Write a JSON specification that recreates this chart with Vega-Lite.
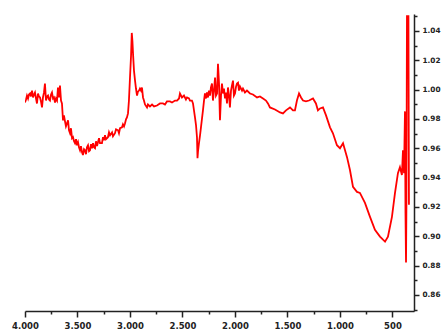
{
  "$schema": "https://vega.github.io/schema/vega-lite/v6.json",
  "width": 389,
  "height": 297,
  "autosize": {"type": "none"},
  "padding": {"left": 25, "top": 14, "right": 34, "bottom": 21},
  "background": "white",
  "config": {"view": {"stroke": null}},
  "data": {"values": [
    {"wn": 4000, "t": 0.9912}, {"wn": 3990, "t": 0.9932}, {"wn": 3981, "t": 0.9959}, {"wn": 3971, "t": 0.9939},
    {"wn": 3962, "t": 0.9966}, {"wn": 3952, "t": 0.9973}, {"wn": 3943, "t": 0.9953}, {"wn": 3933, "t": 0.9993},
    {"wn": 3924, "t": 0.9946}, {"wn": 3914, "t": 0.9966}, {"wn": 3905, "t": 0.9980}, {"wn": 3895, "t": 0.9939},
    {"wn": 3886, "t": 0.9905}, {"wn": 3876, "t": 0.9973}, {"wn": 3867, "t": 0.9953}, {"wn": 3857, "t": 0.9946},
    {"wn": 3848, "t": 0.9919}, {"wn": 3838, "t": 0.9878}, {"wn": 3829, "t": 0.9946}, {"wn": 3819, "t": 0.9980},
    {"wn": 3810, "t": 1.0041}, {"wn": 3800, "t": 0.9925}, {"wn": 3790, "t": 0.9953}, {"wn": 3781, "t": 0.9959},
    {"wn": 3771, "t": 0.9932}, {"wn": 3762, "t": 0.9925}, {"wn": 3752, "t": 0.9966}, {"wn": 3743, "t": 0.9980},
    {"wn": 3733, "t": 0.9939}, {"wn": 3724, "t": 0.9946}, {"wn": 3714, "t": 0.9912}, {"wn": 3705, "t": 0.9939},
    {"wn": 3695, "t": 0.9925}, {"wn": 3686, "t": 1.0014}, {"wn": 3676, "t": 0.9946}, {"wn": 3667, "t": 1.0027},
    {"wn": 3657, "t": 0.9925}, {"wn": 3648, "t": 0.9905}, {"wn": 3638, "t": 0.9790}, {"wn": 3629, "t": 0.9824},
    {"wn": 3619, "t": 0.9783}, {"wn": 3610, "t": 0.9749}, {"wn": 3600, "t": 0.9769}, {"wn": 3590, "t": 0.9790},
    {"wn": 3581, "t": 0.9722}, {"wn": 3571, "t": 0.9702}, {"wn": 3562, "t": 0.9736}, {"wn": 3552, "t": 0.9668},
    {"wn": 3543, "t": 0.9675}, {"wn": 3533, "t": 0.9647}, {"wn": 3524, "t": 0.9634}, {"wn": 3514, "t": 0.9661},
    {"wn": 3505, "t": 0.9620}, {"wn": 3495, "t": 0.9641}, {"wn": 3486, "t": 0.9607}, {"wn": 3476, "t": 0.9586},
    {"wn": 3467, "t": 0.9614}, {"wn": 3457, "t": 0.9573}, {"wn": 3448, "t": 0.9553}, {"wn": 3438, "t": 0.9593},
    {"wn": 3429, "t": 0.9586}, {"wn": 3419, "t": 0.9559}, {"wn": 3410, "t": 0.9607}, {"wn": 3400, "t": 0.9620},
    {"wn": 3390, "t": 0.9580}, {"wn": 3381, "t": 0.9586}, {"wn": 3371, "t": 0.9627}, {"wn": 3362, "t": 0.9600},
    {"wn": 3352, "t": 0.9634}, {"wn": 3343, "t": 0.9607}, {"wn": 3333, "t": 0.9600}, {"wn": 3324, "t": 0.9647},
    {"wn": 3314, "t": 0.9614}, {"wn": 3305, "t": 0.9641}, {"wn": 3295, "t": 0.9668}, {"wn": 3286, "t": 0.9634},
    {"wn": 3267, "t": 0.9634}, {"wn": 3257, "t": 0.9675}, {"wn": 3248, "t": 0.9654}, {"wn": 3238, "t": 0.9688},
    {"wn": 3229, "t": 0.9661}, {"wn": 3210, "t": 0.9675}, {"wn": 3200, "t": 0.9708}, {"wn": 3190, "t": 0.9688},
    {"wn": 3171, "t": 0.9708}, {"wn": 3162, "t": 0.9681}, {"wn": 3143, "t": 0.9702}, {"wn": 3133, "t": 0.9729},
    {"wn": 3114, "t": 0.9722}, {"wn": 3105, "t": 0.9702}, {"wn": 3095, "t": 0.9736}, {"wn": 3076, "t": 0.9742},
    {"wn": 3067, "t": 0.9763}, {"wn": 3057, "t": 0.9749}, {"wn": 3048, "t": 0.9769}, {"wn": 3038, "t": 0.9797},
    {"wn": 3029, "t": 0.9810}, {"wn": 3019, "t": 0.9837}, {"wn": 3010, "t": 0.9925}, {"wn": 3000, "t": 1.0081},
    {"wn": 2990, "t": 1.0230}, {"wn": 2983, "t": 1.0386}, {"wn": 2977, "t": 1.0332}, {"wn": 2971, "t": 1.0244},
    {"wn": 2962, "t": 1.0129}, {"wn": 2952, "t": 1.0061}, {"wn": 2943, "t": 1.0007}, {"wn": 2933, "t": 0.9959},
    {"wn": 2924, "t": 0.9986}, {"wn": 2914, "t": 0.9993}, {"wn": 2905, "t": 1.0007}, {"wn": 2895, "t": 0.9993},
    {"wn": 2886, "t": 1.0014}, {"wn": 2876, "t": 0.9946}, {"wn": 2867, "t": 0.9925}, {"wn": 2857, "t": 0.9898},
    {"wn": 2838, "t": 0.9878}, {"wn": 2829, "t": 0.9898}, {"wn": 2810, "t": 0.9885}, {"wn": 2790, "t": 0.9898},
    {"wn": 2771, "t": 0.9885}, {"wn": 2743, "t": 0.9891}, {"wn": 2714, "t": 0.9905}, {"wn": 2686, "t": 0.9905},
    {"wn": 2667, "t": 0.9898}, {"wn": 2648, "t": 0.9919}, {"wn": 2619, "t": 0.9919}, {"wn": 2600, "t": 0.9912},
    {"wn": 2571, "t": 0.9925}, {"wn": 2552, "t": 0.9925}, {"wn": 2533, "t": 0.9939}, {"wn": 2524, "t": 0.9973},
    {"wn": 2505, "t": 0.9946}, {"wn": 2486, "t": 0.9959}, {"wn": 2467, "t": 0.9932}, {"wn": 2457, "t": 0.9946},
    {"wn": 2438, "t": 0.9939}, {"wn": 2429, "t": 0.9925}, {"wn": 2410, "t": 0.9925}, {"wn": 2400, "t": 0.9905},
    {"wn": 2381, "t": 0.9810}, {"wn": 2371, "t": 0.9756}, {"wn": 2362, "t": 0.9675}, {"wn": 2357, "t": 0.9532},
    {"wn": 2352, "t": 0.9580}, {"wn": 2343, "t": 0.9634}, {"wn": 2333, "t": 0.9688}, {"wn": 2324, "t": 0.9742},
    {"wn": 2314, "t": 0.9803}, {"wn": 2305, "t": 0.9858}, {"wn": 2295, "t": 0.9925}, {"wn": 2286, "t": 0.9973},
    {"wn": 2276, "t": 0.9939}, {"wn": 2267, "t": 0.9980}, {"wn": 2257, "t": 0.9946}, {"wn": 2248, "t": 0.9993},
    {"wn": 2238, "t": 0.9959}, {"wn": 2229, "t": 1.0014}, {"wn": 2219, "t": 1.0041}, {"wn": 2210, "t": 0.9925},
    {"wn": 2200, "t": 0.9993}, {"wn": 2190, "t": 1.0081}, {"wn": 2181, "t": 0.9959}, {"wn": 2171, "t": 0.9973},
    {"wn": 2162, "t": 1.0176}, {"wn": 2152, "t": 1.0041}, {"wn": 2143, "t": 0.9790}, {"wn": 2133, "t": 0.9959},
    {"wn": 2124, "t": 1.0041}, {"wn": 2114, "t": 0.9973}, {"wn": 2105, "t": 1.0007}, {"wn": 2095, "t": 0.9939},
    {"wn": 2086, "t": 0.9980}, {"wn": 2076, "t": 0.9905}, {"wn": 2067, "t": 1.0014}, {"wn": 2057, "t": 0.9959},
    {"wn": 2048, "t": 0.9878}, {"wn": 2038, "t": 0.9993}, {"wn": 2029, "t": 1.0027}, {"wn": 2019, "t": 1.0061},
    {"wn": 2010, "t": 0.9959}, {"wn": 2000, "t": 0.9973}, {"wn": 1990, "t": 1.0020}, {"wn": 1981, "t": 1.0041},
    {"wn": 1971, "t": 1.0047}, {"wn": 1962, "t": 0.9993}, {"wn": 1952, "t": 1.0020}, {"wn": 1933, "t": 0.9993},
    {"wn": 1924, "t": 1.0007}, {"wn": 1905, "t": 0.9980}, {"wn": 1886, "t": 0.9993}, {"wn": 1857, "t": 0.9973},
    {"wn": 1829, "t": 0.9966}, {"wn": 1790, "t": 0.9946}, {"wn": 1762, "t": 0.9953}, {"wn": 1733, "t": 0.9939},
    {"wn": 1705, "t": 0.9925}, {"wn": 1686, "t": 0.9905}, {"wn": 1667, "t": 0.9878}, {"wn": 1619, "t": 0.9864},
    {"wn": 1571, "t": 0.9844}, {"wn": 1543, "t": 0.9837}, {"wn": 1514, "t": 0.9858}, {"wn": 1476, "t": 0.9878},
    {"wn": 1448, "t": 0.9858}, {"wn": 1429, "t": 0.9858}, {"wn": 1410, "t": 0.9925}, {"wn": 1390, "t": 0.9973},
    {"wn": 1371, "t": 0.9946}, {"wn": 1352, "t": 0.9925}, {"wn": 1324, "t": 0.9919}, {"wn": 1295, "t": 0.9925},
    {"wn": 1257, "t": 0.9939}, {"wn": 1229, "t": 0.9905}, {"wn": 1210, "t": 0.9858}, {"wn": 1190, "t": 0.9871},
    {"wn": 1162, "t": 0.9878}, {"wn": 1133, "t": 0.9824}, {"wn": 1095, "t": 0.9742}, {"wn": 1067, "t": 0.9702},
    {"wn": 1029, "t": 0.9620}, {"wn": 1000, "t": 0.9600}, {"wn": 971, "t": 0.9634}, {"wn": 933, "t": 0.9539},
    {"wn": 905, "t": 0.9451}, {"wn": 876, "t": 0.9336}, {"wn": 838, "t": 0.9302}, {"wn": 810, "t": 0.9295},
    {"wn": 762, "t": 0.9227}, {"wn": 714, "t": 0.9132}, {"wn": 667, "t": 0.9044}, {"wn": 619, "t": 0.8997},
    {"wn": 590, "t": 0.8976}, {"wn": 571, "t": 0.8963}, {"wn": 543, "t": 0.8997}, {"wn": 505, "t": 0.9132},
    {"wn": 476, "t": 0.9295}, {"wn": 448, "t": 0.9430}, {"wn": 429, "t": 0.9471}, {"wn": 410, "t": 0.9417},
    {"wn": 400, "t": 0.9586}, {"wn": 390, "t": 0.9430}, {"wn": 381, "t": 0.9851},
    {"wn": 376, "t": 0.9159}, {"wn": 371, "t": 0.8820}, {"wn": 367, "t": 0.9247}, {"wn": 362, "t": 1.0500},
    {"wn": 348, "t": 1.0500}, {"wn": 343, "t": 0.9214}
  ]},
  "mark": {"type": "line", "color": "#ff0000", "strokeWidth": 1.8, "clip": true, "interpolate": "linear"},
  "encoding": {
    "x": {
      "field": "wn", "type": "quantitative", "sort": null,
      "scale": {"domain": [4000, 295], "nice": false, "zero": false},
      "axis": {
        "orient": "bottom", "title": null, "grid": false,
        "values": [4000, 3750, 3500, 3250, 3000, 2750, 2500, 2250, 2000, 1750, 1500, 1250, 1000, 750, 500],
        "labelExpr": "datum.value % 500 === 0 ? replace(format(datum.value, ','), ',', '.') : ''",
        "tickSize": {"condition": {"test": "datum.value % 500 === 0", "value": 6}, "value": 3},
        "labelPadding": 4,
        "labelFont": "DejaVu Sans", "labelFontWeight": "bold", "labelFontSize": 8.5, "labelColor": "#222",
        "labelOverlap": false, "labelFlush": false,
        "domainColor": "#222", "domainWidth": 1.5, "tickColor": "#222", "tickWidth": 1.5
      }
    },
    "y": {
      "field": "t", "type": "quantitative",
      "scale": {"domain": [0.849, 1.0515], "nice": false, "zero": false},
      "axis": {
        "orient": "right", "title": null, "grid": false,
        "values": [0.85, 0.86, 0.87, 0.88, 0.89, 0.9, 0.91, 0.92, 0.93, 0.94, 0.95, 0.96, 0.97, 0.98, 0.99, 1.0, 1.01, 1.02, 1.03, 1.04, 1.05],
        "labelExpr": "round(datum.value * 100) % 2 === 0 && datum.value > 0.855 && datum.value < 1.045 ? format(datum.value, '.2f') : ''",
        "tickSize": {"condition": {"test": "round(datum.value * 100) % 2 === 0", "value": 5}, "value": 3},
        "labelPadding": 3,
        "labelFont": "DejaVu Sans", "labelFontWeight": "bold", "labelFontSize": 7.3, "labelColor": "#222",
        "labelOverlap": false, "labelFlush": false,
        "domainColor": "#222", "domainWidth": 1.5, "tickColor": "#222", "tickWidth": 1.5
      }
    }
  }
}
